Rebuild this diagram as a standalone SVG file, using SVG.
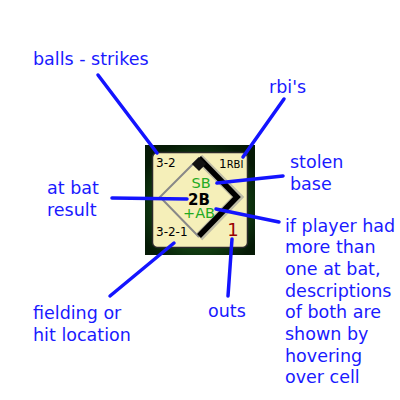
<svg xmlns="http://www.w3.org/2000/svg" width="400" height="400" viewBox="0 0 400 400">
<defs>
<radialGradient id="frame" cx="50%" cy="55%" r="60%">
<stop offset="0" stop-color="#1f5a1f"/>
<stop offset="0.7" stop-color="#0f3a10"/>
<stop offset="1" stop-color="#061a06"/>
</radialGradient>
</defs>
<style>
.lbl{font-family:"DejaVu Sans",sans-serif;font-size:17.5px;fill:#1a1aff}
.lead{stroke:#1414ff;stroke-width:3.5;fill:none;stroke-linecap:round}
.cell{font-family:"DejaVu Sans",sans-serif}
</style>
<rect width="400" height="400" fill="#ffffff"/>
<g id="cell">
<rect x="145" y="145" width="110" height="110" fill="url(#frame)"/>
<rect x="152.5" y="152.5" width="95" height="95" rx="5" fill="#f5efb9" stroke="#2a2a2a" stroke-width="1.5"/>
<path d="M199,158 L160,197 L199,237" fill="none" stroke="#888" stroke-width="2"/>
<path d="M199,158 L238,197 L199,237" fill="none" stroke="#999" stroke-width="9" stroke-linejoin="miter" opacity="0.6"/>
<path d="M199,158 L237,197 L199,236" fill="none" stroke="#000" stroke-width="5.5" stroke-linejoin="miter"/>
<rect x="194" y="159" width="10" height="10" fill="#111" transform="rotate(45 199 164)"/>
<text class="cell" x="156" y="167" font-size="12">3-2</text>
<text class="cell" x="219" y="168" font-size="12">1<tspan font-size="10">RBI</tspan></text>
<text class="cell" x="201" y="188" font-size="14.5" fill="#22aa22" text-anchor="middle">SB</text>
<text class="cell" x="199" y="205" font-size="15" font-weight="bold" text-anchor="middle">2B</text>
<text class="cell" x="199" y="218" font-size="14.5" fill="#22aa22" text-anchor="middle">+AB</text>
<text class="cell" x="156" y="236" font-size="12">3-2-1</text>
<text class="cell" x="233" y="236" font-size="18" fill="#990000" text-anchor="middle">1</text>
</g>
<g id="connectors">
<line class="lead" x1="98" y1="75" x2="157" y2="153"/>
<line class="lead" x1="284" y1="99" x2="243" y2="157"/>
<line class="lead" x1="283" y1="176" x2="217" y2="183"/>
<line class="lead" x1="112" y1="198" x2="187" y2="199"/>
<line class="lead" x1="279" y1="222" x2="216" y2="209"/>
<line class="lead" x1="110" y1="296" x2="174" y2="243"/>
<line class="lead" x1="228" y1="296" x2="232" y2="239"/>
</g>
<g id="labels">
<text class="lbl" x="33" y="65">balls - strikes</text>
<text class="lbl" x="269" y="93">rbi's</text>
<text class="lbl" x="290" y="168">stolen</text>
<text class="lbl" x="290" y="190">base</text>
<text class="lbl" x="47" y="194">at bat</text>
<text class="lbl" x="47" y="216">result</text>
<text class="lbl" x="285" y="232">if player had</text>
<text class="lbl" x="285" y="253">more than</text>
<text class="lbl" x="285" y="275">one at bat,</text>
<text class="lbl" x="285" y="297">descriptions</text>
<text class="lbl" x="285" y="318">of both are</text>
<text class="lbl" x="285" y="340">shown by</text>
<text class="lbl" x="285" y="362">hovering</text>
<text class="lbl" x="285" y="383">over cell</text>
<text class="lbl" x="33" y="319">fielding or</text>
<text class="lbl" x="33" y="341">hit location</text>
<text class="lbl" x="208" y="317">outs</text>
</g>
</svg>
